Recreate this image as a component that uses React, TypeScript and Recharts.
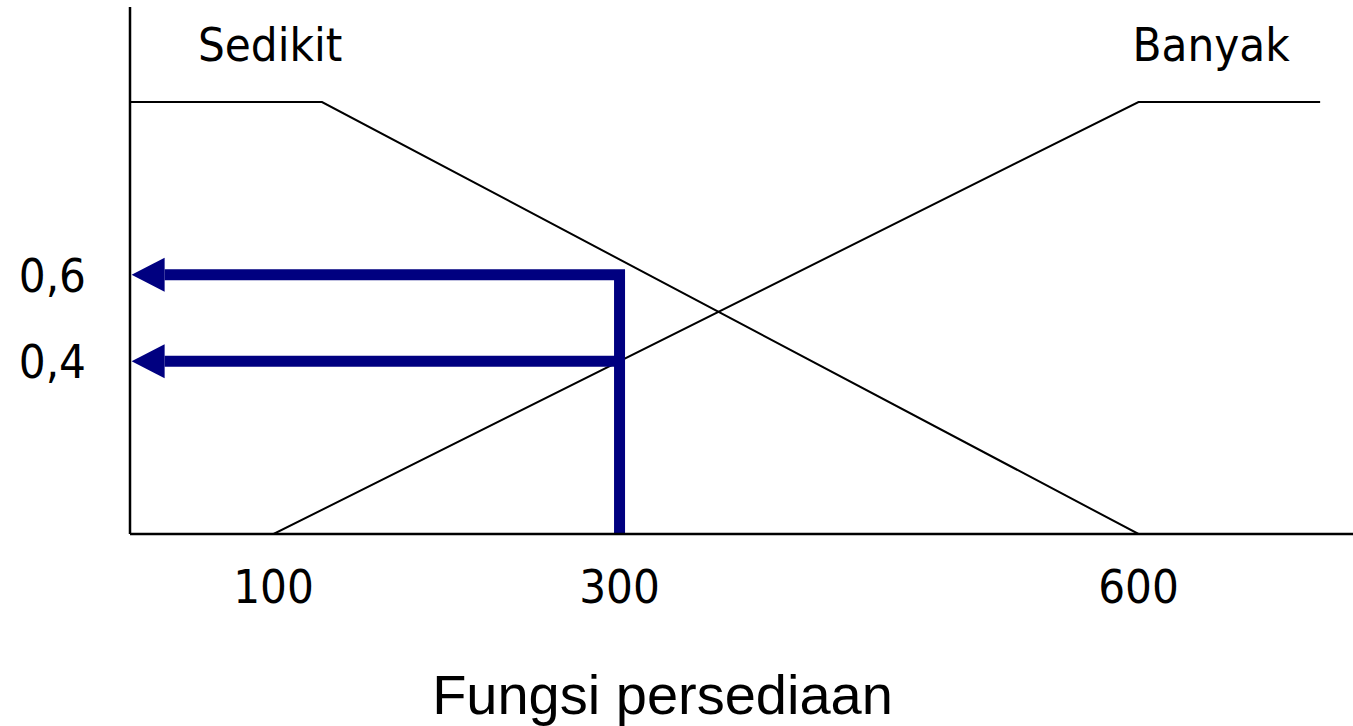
import { ComposedChart, Line, XAxis, YAxis, ReferenceDot, Label } from 'recharts'

// membership functions (x = persediaan, y = derajat keanggotaan)
const sedikit = [
  { x: 17, y: 1 },
  { x: 128, y: 1 },
  { x: 600, y: 0 },
]
const banyak = [
  { x: 100, y: 0 },
  { x: 600, y: 1 },
  { x: 705, y: 1 },
]

// input 300 -> mu values read back on the y axis
const arrowSedikit = [
  { x: 300, y: 0 },
  { x: 300, y: 0.6 },
  { x: 37, y: 0.6 },
]
const arrowBanyak = [
  { x: 300, y: 0.4 },
  { x: 37, y: 0.4 },
]

const xTicks = [100, 300, 600]
const yTicks = [0.4, 0.6]
const setNames = ['Sedikit', 'Banyak']
const setLabelX = [98, 642]
const xTitle = 'Fungsi persediaan'

const NAVY = '#000080'
const labelFont = "'DejaVu Sans Condensed', 'DejaVu Sans', sans-serif"

function ArrowHead(props: any) {
  const { cx, cy, index, points } = props
  if (index !== points.length - 1) return <g key={`d-${index}`} />
  return (
    <path
      key={`d-${index}`}
      d={`M${cx},${cy - 17} L${cx - 33},${cy} L${cx},${cy + 17} Z`}
      fill={NAVY}
    />
  )
}

export default function App() {
  return (
    <div style={{ width: 1353, height: 726, background: '#fff' }}>
      <style>{'body{margin:0}'}</style>
      <ComposedChart width={1353} height={726} margin={{ top: 7, right: 0, bottom: 0, left: 0 }}>
        <XAxis
          type="number"
          dataKey="x"
          domain={[17, 724]}
          allowDataOverflow
          ticks={xTicks}
          interval={0}
          height={192}
          tickLine={false}
          tickSize={0}
          tickMargin={36}
          axisLine={{ stroke: '#000', strokeWidth: 2.5 }}
          tick={{ fontSize: 47, fill: '#000', fontFamily: labelFont }}
        >
          <Label
            position="insideBottom"
            content={({ viewBox }: any) => (
              <text
                x={viewBox.x + viewBox.width / 2 - 79}
                y={viewBox.y + viewBox.height - 12}
                textAnchor="middle"
                fontSize={56}
                fontFamily="'Liberation Sans', Arial, sans-serif"
                fill="#000"
              >
                {xTitle}
              </text>
            )}
          />
        </XAxis>
        <YAxis
          type="number"
          domain={[0, 1.22]}
          allowDataOverflow
          ticks={yTicks}
          interval={0}
          width={130}
          tickLine={false}
          tickSize={0}
          tickMargin={44}
          tickFormatter={(v: number) => String(v).replace('.', ',')}
          axisLine={{ stroke: '#000', strokeWidth: 2.5 }}
          tick={{ fontSize: 47, fill: '#000', fontFamily: labelFont }}
        />
        <Line data={sedikit} dataKey="y" type="linear" stroke="#000" strokeWidth={2} dot={false} isAnimationActive={false} />
        <Line data={banyak} dataKey="y" type="linear" stroke="#000" strokeWidth={2} dot={false} isAnimationActive={false} />
        <Line data={arrowSedikit} dataKey="y" type="linear" stroke={NAVY} strokeWidth={11} dot={ArrowHead} activeDot={false} isAnimationActive={false} />
        <Line data={arrowBanyak} dataKey="y" type="linear" stroke={NAVY} strokeWidth={11} dot={ArrowHead} activeDot={false} isAnimationActive={false} />
        {setNames.map((name, i) => (
          <ReferenceDot
            key={name}
            x={setLabelX[i]}
            y={1.134}
            r={0}
            stroke="none"
            fill="none"
            label={{ value: name, position: 'center', fontSize: 47, fill: '#000', fontFamily: labelFont }}
          />
        ))}
      </ComposedChart>
    </div>
  )
}
